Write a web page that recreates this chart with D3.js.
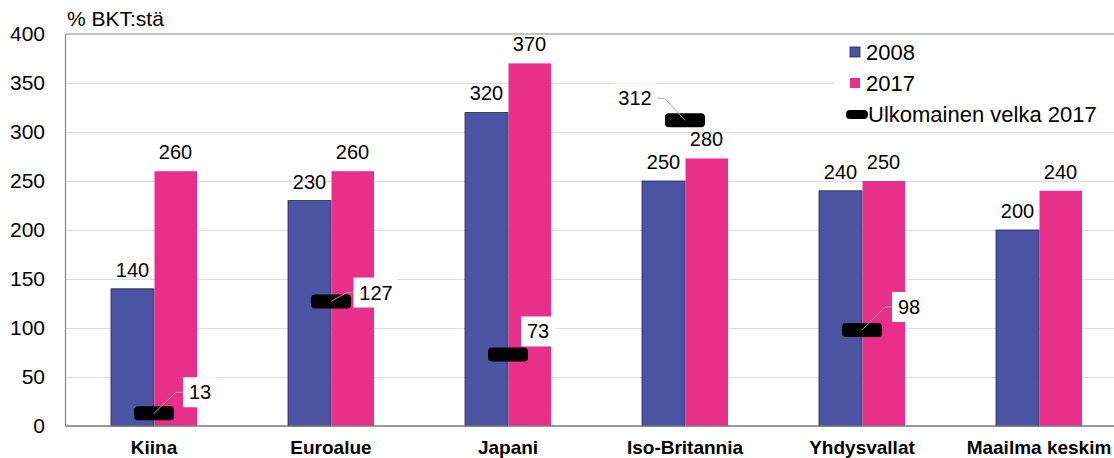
<!DOCTYPE html>
<html>
<head>
<meta charset="utf-8">
<script src="https://cdn.jsdelivr.net/npm/d3@7"></script>
<style>
  body { margin: 0; background: #fff; }
  svg { display: block; font-family: 'Liberation Sans', Arial, sans-serif; }
  .tick-label { font-size: 21px; fill: #000; }
  .value-label { font-size: 20px; fill: #000; }
  .cat-label { font-size: 19px; font-weight: bold; fill: #000; }
</style>
</head>
<body>
<div id="chart"></div>
<script>
const categories = ['Kiina', 'Euroalue', 'Japani', 'Iso-Britannia', 'Yhdysvallat', 'Maailma keskim'];
const values2008 = [140, 230, 320, 250, 240, 200];
const values2017 = [260, 260, 370, 273, 250, 240];
const labels2008 = ['140', '230', '320', '250', '240', '200'];
const labels2017 = ['260', '260', '370', '280', '250', '240'];
const externalDebt = [13, 127, 73, 312, 98, null];
const yTicks = [0, 50, 100, 150, 200, 250, 300, 350, 400];

// where each debt label sits relative to its marker (dx, dy, leader)
const debtLabelOffsets = [
  { dx: 46, dy: -21, leader: true },
  { dx: 45, dy: -9, leader: true },
  { dx: 30, dy: -23, leader: false },
  { dx: -50, dy: -22, leader: true },
  { dx: 47, dy: -23, leader: true },
  null,
];

const width = 1114;
const height = 458;
const margin = { top: 34, left: 65.5, bottom: 32 };
const plotRight = margin.left + 6 * 177;

const blue = '#4b53a3';
const pink = '#e8308a';

const svg = d3.select('#chart').append('svg')
  .attr('width', width)
  .attr('height', height);

const x = d3.scaleBand()
  .domain(categories)
  .range([margin.left, plotRight]);

const y = d3.scaleLinear()
  .domain([0, 400])
  .range([height - margin.bottom, margin.top]);

const barW = 43;

// grid lines
svg.selectAll('.grid')
  .data(yTicks.filter(t => t > 0 && t < 400))
  .enter()
  .append('line')
  .attr('x1', margin.left)
  .attr('x2', plotRight)
  .attr('y1', d => Math.round(y(d)) + 0.5)
  .attr('y2', d => Math.round(y(d)) + 0.5)
  .attr('stroke', '#dcdcdc')
  .attr('stroke-width', 1);

// y tick labels
svg.selectAll('.tick-label')
  .data(yTicks)
  .enter()
  .append('text')
  .attr('class', 'tick-label')
  .attr('x', 45)
  .attr('y', d => y(d))
  .attr('dy', '0.35em')
  .attr('text-anchor', 'end')
  .text(d => d);

svg.append('text')
  .attr('x', 67)
  .attr('y', 26)
  .style('font-size', '21px')
  .text('% BKT:stä');

// bars
const cx = d => x(d) + x.bandwidth() / 2;

svg.selectAll('.bar2008')
  .data(categories)
  .enter()
  .append('rect')
  .attr('x', d => cx(d) - barW)
  .attr('y', (d, i) => y(values2008[i]))
  .attr('width', barW)
  .attr('height', (d, i) => y(0) - y(values2008[i]))
  .attr('fill', blue)
  .attr('stroke', '#23264f')
  .attr('stroke-width', 0.8);

svg.selectAll('.bar2017')
  .data(categories)
  .enter()
  .append('rect')
  .attr('x', d => cx(d) + 0.5)
  .attr('y', (d, i) => y(values2017[i]))
  .attr('width', barW - 0.5)
  .attr('height', (d, i) => y(0) - y(values2017[i]))
  .attr('fill', pink);

// bar value labels
svg.selectAll('.lab2008')
  .data(categories)
  .enter()
  .append('text')
  .attr('class', 'value-label')
  .attr('x', d => cx(d) - barW / 2)
  .attr('y', (d, i) => y(values2008[i]) - 12)
  .attr('text-anchor', 'middle')
  .text((d, i) => labels2008[i]);

svg.selectAll('.lab2017')
  .data(categories)
  .enter()
  .append('text')
  .attr('class', 'value-label')
  .attr('x', d => cx(d) + barW / 2)
  .attr('y', (d, i) => y(values2017[i]) - 12)
  .attr('text-anchor', 'middle')
  .text((d, i) => labels2017[i]);

// axes frame
svg.append('line')
  .attr('x1', margin.left).attr('x2', margin.left)
  .attr('y1', margin.top).attr('y2', y(0))
  .attr('stroke', '#868686').attr('stroke-width', 1.2);
svg.append('line')
  .attr('x1', margin.left).attr('x2', plotRight)
  .attr('y1', margin.top).attr('y2', margin.top)
  .attr('stroke', '#868686').attr('stroke-width', 1.2);
svg.append('line')
  .attr('x1', margin.left).attr('x2', plotRight)
  .attr('y1', y(0)).attr('y2', y(0))
  .attr('stroke', '#777').attr('stroke-width', 1.5);

// category labels
svg.selectAll('.cat-label')
  .data(categories)
  .enter()
  .append('text')
  .attr('class', 'cat-label')
  .attr('x', d => cx(d))
  .attr('y', 454)
  .attr('text-anchor', 'middle')
  .text(d => d);

// external debt markers + labels
const debt = categories.map((c, i) => ({ c, v: externalDebt[i], o: debtLabelOffsets[i] }))
  .filter(d => d.v !== null);

debt.forEach(function (d) {
  const mx = cx(d.c);
  const my = y(d.v);
  const lx = mx + d.o.dx;
  const ly = my + d.o.dy;
  const txt = String(d.v);
  const boxW = txt.length * 11 + 12;
  const boxH = 30;

  const g = svg.append('g');

  g.append('rect')
    .attr('x', lx - boxW / 2)
    .attr('y', ly - boxH / 2)
    .attr('width', boxW)
    .attr('height', boxH)
    .attr('fill', '#fff');

  g.append('rect')
    .attr('x', mx - 20)
    .attr('y', my - 7)
    .attr('width', 40)
    .attr('height', 14)
    .attr('rx', 4)
    .attr('fill', '#000');

  if (d.o.leader) {
    const edge = d.o.dx > 0 ? lx - boxW / 2 : lx + boxW / 2;
    const elbow = d.o.dx > 0 ? edge - 7 : edge + 7;
    g.append('path')
      .attr('d', `M${mx},${my}L${elbow},${ly}L${edge},${ly}`)
      .attr('fill', 'none')
      .attr('stroke', '#a6a6a6')
      .attr('stroke-width', 1);
  }

  g.append('text')
    .attr('class', 'value-label')
    .attr('x', lx)
    .attr('y', ly)
    .attr('dy', '0.35em')
    .attr('text-anchor', 'middle')
    .text(txt);
});

// legend
const legend = svg.append('g');
legend.append('rect')
  .attr('x', 834).attr('y', 36)
  .attr('width', 290).attr('height', 92)
  .attr('fill', '#fff');

const legendItems = [
  { label: '2008', color: blue, y: 52 },
  { label: '2017', color: pink, y: 83 },
];
legendItems.forEach(function (it) {
  legend.append('rect')
    .attr('x', 850).attr('y', it.y - 5)
    .attr('width', 10).attr('height', 10)
    .attr('fill', it.color)
    .attr('stroke', it.color === blue ? '#23264f' : 'none')
    .attr('stroke-width', 0.8);
  legend.append('text')
    .attr('x', 866).attr('y', it.y)
    .attr('dy', '0.35em')
    .style('font-size', '22px')
    .text(it.label);
});
legend.append('rect')
  .attr('x', 846).attr('y', 110)
  .attr('width', 22).attr('height', 9)
  .attr('rx', 4)
  .attr('fill', '#000');
legend.append('text')
  .attr('x', 868).attr('y', 114)
  .attr('dy', '0.35em')
  .style('font-size', '22px')
  .text('Ulkomainen velka 2017');
</script>
</body>
</html>
